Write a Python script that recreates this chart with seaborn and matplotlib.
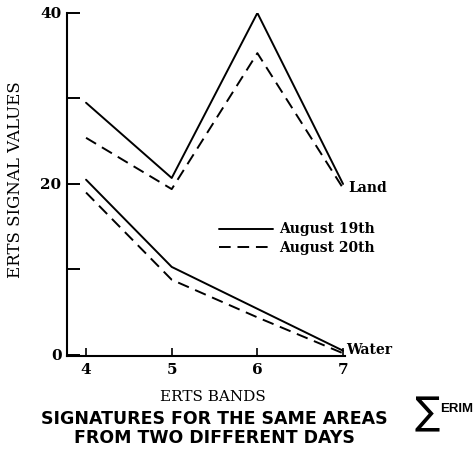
import matplotlib
matplotlib.use("Agg")
import matplotlib.pyplot as plt
import seaborn as sns
import pandas as pd
from matplotlib.lines import Line2D

# ERTS band numbers and signal values for two areas on two days
bands = [4, 5, 6, 7]
land_aug19 = [29.5, 20.7, 40.0, 20.0]
land_aug20 = [25.4, 19.4, 35.3, 19.5]
water_aug19 = [20.5, 10.3, 5.4, 0.5]
water_aug20 = [19.0, 8.8, 4.4, 0.2]
y_ticks = [0, 10, 20, 30, 40]
y_tick_labels = ["0", "", "20", "", "40"]

rows = []
for area, day, vals in [("Land", "August 19th", land_aug19),
                        ("Land", "August 20th", land_aug20),
                        ("Water", "August 19th", water_aug19),
                        ("Water", "August 20th", water_aug20)]:
    for b, v in zip(bands, vals):
        rows.append({"band": b, "value": v, "area": area, "day": day})
df = pd.DataFrame(rows)

sns.set_theme(style="ticks")
plt.rcParams["font.family"] = ["DejaVu Serif"]
for key in ["text.color", "axes.labelcolor", "xtick.color", "ytick.color",
            "axes.edgecolor"]:
    plt.rcParams[key] = "black"

fig = plt.figure(figsize=(4.74, 4.49), dpi=100)
ax = fig.add_axes([0.1414, 0.2071, 0.5865, 0.764])

dash = (0, (6, 3.5))
for (area, day), sub in df.groupby(["area", "day"]):
    ls = "-" if day == "August 19th" else dash
    sns.lineplot(data=sub, x="band", y="value", ax=ax, color="black",
                 linewidth=1.4, linestyle=ls, estimator=None, legend=False)

ax.set_xlim(3.778, 7.023)
ax.set_ylim(-0.12, 40.0)
ax.set_xticks(bands)
ax.set_xticklabels([str(b) for b in bands], fontweight="bold", fontsize=11)
ax.set_yticks(y_ticks)
ax.set_yticklabels(y_tick_labels, fontweight="bold", fontsize=11)
ax.tick_params(axis="y", direction="in", length=9, width=1.4, pad=4)
ax.tick_params(axis="x", direction="in", length=6, width=1.2, pad=5)
for s in ["top", "right"]:
    ax.spines[s].set_visible(False)
for s in ["left", "bottom"]:
    ax.spines[s].set_linewidth(1.5)
ax.set_facecolor("none")

ax.set_xlabel("ERTS BANDS", fontsize=11)
ax.xaxis.set_label_coords(0.525, -0.10)
ax.set_ylabel("ERTS SIGNAL VALUES", fontsize=12)
ax.yaxis.set_label_coords(-0.153, 0.515)

# End-of-line labels
ax.text(7.06, land_aug19[-1] - 0.5, "Land", fontsize=10, fontweight="bold",
        va="center", ha="left")
ax.text(7.04, water_aug19[-1] + 0.1, "Water", fontsize=10, fontweight="bold",
        va="center", ha="left")

handles = [Line2D([], [], color="black", lw=1.4, ls="-"),
           Line2D([], [], color="black", lw=1.4, ls=dash)]
ax.legend(handles, ["August 19th", "August 20th"], frameon=False,
          loc="upper left", bbox_to_anchor=(0.5, 0.426),
          handlelength=3.9, handletextpad=0.45, labelspacing=0.3,
          prop={"family": "DejaVu Serif", "weight": "bold", "size": 10})

fig.text(0.4515, 0.0457, "SIGNATURES FOR THE SAME AREAS\nFROM TWO DIFFERENT DAYS",
         ha="center", va="center", fontsize=12.5, fontweight="bold",
         family=["DejaVu Sans"], linespacing=1.1)

# Logo
fig.text(0.927, 0.078, "\u2211", ha="right", va="center", fontsize=27,
         family=["DejaVu Sans"])
fig.text(0.998, 0.088, "ERIM", ha="right", va="center", fontsize=9.5,
         fontweight="bold", family=["Liberation Sans", "DejaVu Sans"])

fig.savefig("out.png", dpi=100, facecolor="white")
